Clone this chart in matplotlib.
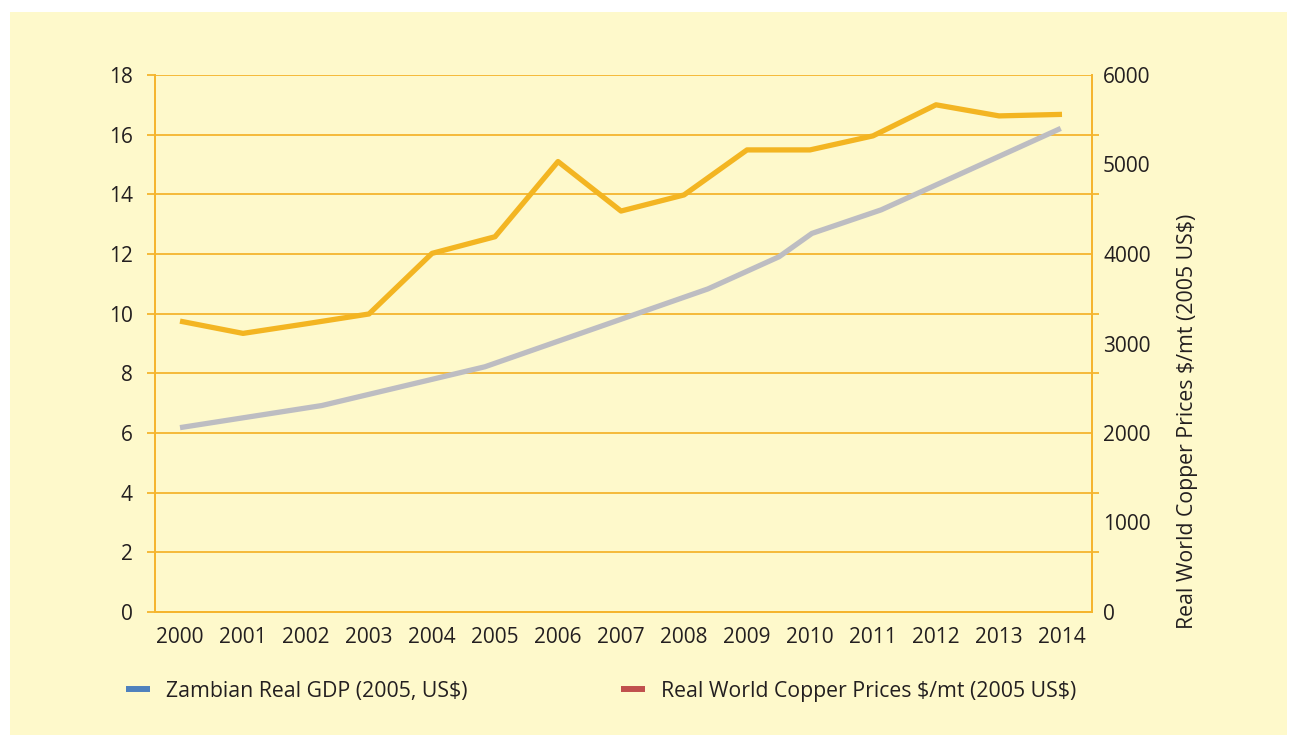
import matplotlib
matplotlib.use("Agg")
import matplotlib.pyplot as plt
from matplotlib.lines import Line2D
from matplotlib.patches import Rectangle
import numpy as np

plt.rcParams['font.family'] = ['Open Sans', 'DejaVu Sans']

# ---- data ----
years = [2000, 2001, 2002, 2003, 2004, 2005, 2006, 2007, 2008, 2009, 2010, 2011, 2012, 2013, 2014]
copper_price = [3250, 3113, 3220, 3330, 4007, 4193, 5033, 4480, 4660, 5163, 5163, 5320, 5667, 5543, 5560]
gdp_x = [2000, 2002.25, 2004.84, 2008.38, 2009.51, 2010.03, 2011.13, 2013.98]
gdp_values = [6.18, 6.92, 8.22, 10.83, 11.91, 12.69, 13.48, 16.21]
left_ticks = [0, 2, 4, 6, 8, 10, 12, 14, 16, 18]
right_ticks = [0, 1000, 2000, 3000, 4000, 5000, 6000]
legend_labels = [r"Zambian Real GDP (2005, US\$)", r"Real World Copper Prices \$/mt (2005 US\$)"]
right_label = r"Real World Copper Prices \$/mt (2005 US\$)"

BG = "#FEF9CB"
GRID = "#F5B52E"
ORANGE = "#F3B522"
GRAY = "#BDBDC2"
TXT = "#231F20"
FS_TICK = 15
FS_TEXT = 15.3

W, H = 1289, 747
fig = plt.figure(figsize=(W / 100, H / 100), dpi=100)
fig.patch.set_facecolor("white")
fig.patches.append(Rectangle((10 / W, 1 - 735 / H), 1277 / W, 723 / H,
                             transform=fig.transFigure, facecolor=BG,
                             edgecolor="none", zorder=-10))

ax = fig.add_axes([155 / W, 1 - 612 / H, (1092 - 155) / W, (612 - 75) / H])
ax.set_facecolor("none")
ax2 = ax.twinx()

ax.plot(gdp_x, gdp_values, color=GRAY, lw=3.8, solid_capstyle="butt", zorder=3)
ax2.plot(years, copper_price, color=ORANGE, lw=3.8, solid_capstyle="butt", zorder=3)

ax.set_xlim(1999.603, 2014.476)
ax.set_ylim(0, 18)
ax2.set_ylim(0, 6000)

ax.set_yticks(left_ticks)
ax.set_yticklabels([str(t) for t in left_ticks], fontsize=FS_TICK, color=TXT)
ax.yaxis.grid(True, color=GRID, lw=1.3, zorder=0)
ax.set_axisbelow(True)
ax.tick_params(axis="y", length=6, width=1.3, color=GRID, pad=10)

ax.set_xticks(years)
ax.set_xticklabels([str(y) for y in years], fontsize=FS_TICK, color=TXT)
ax.tick_params(axis="x", length=0, pad=11)

ax2.set_yticks(right_ticks)
ax2.set_yticklabels([str(t) for t in right_ticks], fontsize=FS_TICK, color=TXT)
ax2.tick_params(axis="y", which="major", length=0, pad=8)
ax2.set_yticks(np.array(left_ticks) * 6000 / 18, minor=True)
ax2.tick_params(axis="y", which="minor", length=5, width=1.3, color=GRID)

for a in (ax, ax2):
    a.spines["top"].set_visible(False)
    for s in ("left", "right", "bottom"):
        a.spines[s].set_color(GRID)
        a.spines[s].set_linewidth(1.3)

fig.text(1188 / W, 1 - 421 / H, right_label, rotation=90, ha="center", va="center",
         fontsize=FS_TEXT, color=TXT)

handles = [Line2D([], [], color="#4F81BD", lw=4.3, solid_capstyle="butt"),
           Line2D([], [], color="#C0504D", lw=4.3, solid_capstyle="butt")]
fig.legend(handles, legend_labels, loc="center left",
           bbox_to_anchor=(126 / W, 1 - 691 / H), ncol=2, frameon=False,
           fontsize=FS_TEXT, handlelength=1.15, handletextpad=0.75, columnspacing=7.2,
           borderpad=0, borderaxespad=0, labelcolor=TXT)

fig.savefig("out.png", dpi=100, facecolor="white")
